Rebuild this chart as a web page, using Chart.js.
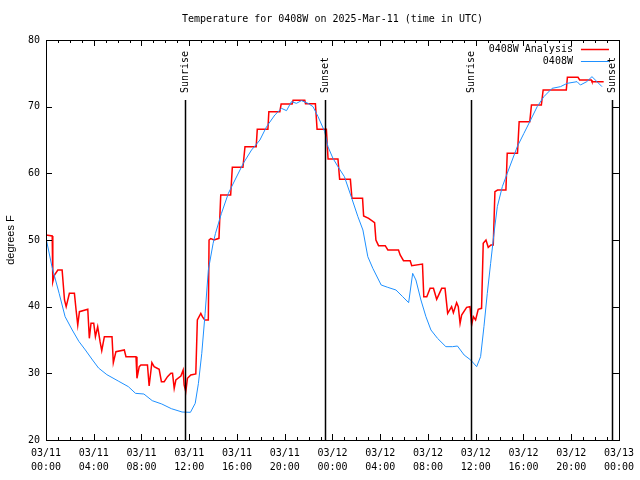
<!DOCTYPE html>
<html>
<head>
<meta charset="utf-8">
<script src="https://cdn.jsdelivr.net/npm/chart.js@4.4.1/dist/chart.umd.min.js"></script>
<style>
  html, body { margin: 0; padding: 0; background: #fff; }
  #chart { display: block; }
</style>
</head>
<body>
<canvas id="chart" width="640" height="480"></canvas>
<script>
// hours since 03/11 00:00 UTC
var tickDays = ['03/11', '03/11', '03/11', '03/11', '03/11', '03/11', '03/12', '03/12', '03/12', '03/12', '03/12', '03/12', '03/13'];
var tickTimes = ['00:00', '04:00', '08:00', '12:00', '16:00', '20:00', '00:00', '04:00', '08:00', '12:00', '16:00', '20:00', '00:00'];

var sunHours = [11.65, 23.35, 35.64, 47.38];
var sunLabels = ['Sunrise', 'Sunset', 'Sunrise', 'Sunset'];

var analysisHours = [0.0, 0.52, 0.57, 0.71, 0.99, 1.35, 1.55, 1.69, 1.96, 2.38, 2.52, 2.66, 2.8, 3.5, 3.63, 3.77, 4.0, 4.14, 4.33, 4.53, 4.67, 4.89, 5.53, 5.64, 5.86, 6.56, 6.7, 7.54, 7.62, 7.81, 7.95, 8.5, 8.64, 8.87, 9.06, 9.48, 9.67, 9.9, 10.18, 10.46, 10.6, 10.74, 10.88, 11.3, 11.49, 11.57, 11.71, 11.85, 12.13, 12.55, 12.68, 12.97, 13.1, 13.3, 13.6, 13.66, 13.8, 14.08, 14.49, 14.64, 15.47, 15.61, 16.5, 16.67, 17.61, 17.7, 18.59, 18.67, 19.59, 19.7, 20.62, 20.7, 21.68, 21.74, 22.57, 22.71, 23.49, 23.63, 24.46, 24.6, 25.5, 25.63, 26.52, 26.61, 27.03, 27.53, 27.64, 27.86, 28.42, 28.64, 29.53, 29.67, 29.95, 30.51, 30.64, 31.54, 31.65, 31.9, 32.18, 32.46, 32.73, 33.15, 33.43, 33.65, 33.98, 34.13, 34.4, 34.54, 34.69, 34.82, 35.24, 35.52, 35.66, 35.8, 35.99, 36.21, 36.49, 36.63, 36.86, 37.05, 37.28, 37.47, 37.61, 37.83, 38.53, 38.64, 39.5, 39.64, 40.53, 40.67, 41.5, 41.65, 43.59, 43.68, 44.57, 44.71, 45.68, 45.74, 46.72];
var analysisTemps = [50.75, 50.6, 43.75, 44.75, 45.5, 45.5, 41, 40, 42, 42, 39.5, 37.25, 39.25, 39.6, 35.25, 37.5, 37.5, 35.5, 37, 34.75, 33.4, 35.5, 35.5, 31.6, 33.25, 33.5, 32.5, 32.5, 29.25, 31, 31.25, 31.25, 28.1, 31.6, 31, 30.6, 28.75, 28.75, 29.5, 30, 30, 27.75, 29, 29.6, 30.5, 28.25, 27.25, 29.25, 29.75, 29.9, 38, 39, 38.5, 38, 38, 50, 50.2, 50, 50.25, 56.75, 56.75, 60.9, 60.9, 64, 64, 66.6, 66.6, 69.25, 69.25, 70.4, 70.4, 70.95, 70.95, 70.45, 70.45, 66.6, 66.6, 62.15, 62.15, 59.1, 59.1, 56.25, 56.25, 53.6, 53.25, 52.6, 50, 49.15, 49.15, 48.5, 48.5, 47.75, 46.9, 46.9, 46.15, 46.4, 41.5, 41.5, 42.75, 42.75, 41.1, 42.75, 42.75, 39, 40, 39.1, 40.6, 40, 37.5, 38.75, 39.9, 40, 37.25, 38.5, 38, 39.6, 39.75, 49.5, 50, 48.9, 49.25, 49.25, 57.25, 57.5, 57.5, 63, 63, 67.75, 67.75, 70.25, 70.25, 72.5, 72.5, 74.4, 74.4, 74, 74, 73.75, 73.75];

var obsHours = [0.0, 0.5, 1.1, 1.6, 2.2, 2.75, 3.3, 3.9, 4.4, 5.1, 6.1, 6.9, 7.5, 8.2, 8.9, 9.7, 10.5, 11.4, 12.1, 12.5, 12.77, 13.05, 13.33, 13.6, 14.0, 14.2, 14.7, 15.28, 15.83, 16.53, 17.22, 17.92, 18.48, 19.17, 19.73, 20.15, 20.56, 20.98, 21.4, 21.95, 22.37, 22.79, 23.35, 23.62, 24.04, 24.46, 25.0, 25.57, 26.13, 26.55, 26.96, 27.38, 28.08, 28.63, 29.32, 29.88, 30.38, 30.72, 30.99, 31.41, 31.83, 32.25, 32.8, 33.5, 34.06, 34.47, 35.03, 35.58, 36.08, 36.41, 36.69, 36.97, 37.25, 37.53, 37.81, 38.23, 38.64, 39.06, 39.48, 40.04, 40.6, 41.15, 41.71, 42.4, 43.1, 43.66, 44.49, 44.77, 45.3, 45.74, 46.16, 46.58];
var obsTemps = [50.3, 46.0, 42.0, 38.5, 36.5, 34.8, 33.5, 32.0, 30.8, 29.8, 28.8, 28.0, 27.0, 26.9, 25.9, 25.4, 24.7, 24.2, 24.15, 25.5, 28.5, 33, 39, 45.5, 49.5, 51, 54, 57, 59, 61.5, 63.5, 65, 67, 68.75, 69.75, 69.4, 70.75, 70.5, 70.9, 70.5, 70, 68.5, 66.25, 64, 62.25, 61, 59.5, 56.5, 53.5, 51.5, 47.5, 45.75, 43.25, 42.9, 42.5, 41.5, 40.6, 45, 44, 41, 38.5, 36.5, 35.25, 34, 34, 34.1, 32.75, 32, 31, 32.5, 37, 42, 46.5, 51, 55, 58, 60, 62, 64, 66, 68, 70, 71.5, 72.75, 73, 73.5, 73.75, 73.25, 73.75, 74.5, 73.75, 73];

var MONO = '"DejaVu Sans Mono", "Liberation Mono", monospace';

function toPoints(xs, ys) {
    var pts = [];
    for (var i = 0; i < xs.length; i++) pts.push({ x: xs[i], y: ys[i] });
    return pts;
}

function $each(arr, fn) {
    for (var i = 0; i < arr.length; i++) fn(i, arr[i]);
}

// gnuplot-like frame, inward ticks, sun lines, title and legend
var gnuFrame = {
    id: 'gnuFrame',
    afterDraw: function (chart) {
        var ctx = chart.ctx;
        var a = chart.chartArea;
        var xs = chart.scales.x, ys = chart.scales.y;
        ctx.save();
        ctx.strokeStyle = '#000';
        ctx.lineWidth = 1;
        ctx.strokeRect(Math.round(a.left) + 0.5, Math.round(a.top) + 0.5, Math.round(a.right - a.left), Math.round(a.bottom - a.top));

        ctx.beginPath();
        for (var h = 0; h <= 48; h++) {
            var px = Math.round(xs.getPixelForValue(h)) + 0.5;
            var len = (h % 4 === 0) ? 6 : 3;
            ctx.moveTo(px, a.bottom); ctx.lineTo(px, a.bottom - len);
            ctx.moveTo(px, a.top); ctx.lineTo(px, a.top + len);
        }
        for (var v = 20; v <= 80; v += 10) {
            var py = Math.round(ys.getPixelForValue(v)) + 0.5;
            ctx.moveTo(a.left, py); ctx.lineTo(a.left + 6, py);
            ctx.moveTo(a.right, py); ctx.lineTo(a.right - 6, py);
        }
        ctx.stroke();

        // sunrise / sunset
        var lineTop = a.top + 0.15 * (a.bottom - a.top);
        ctx.lineWidth = 1.5;
        ctx.fillStyle = '#000';
        ctx.font = '10px ' + MONO;
        $each(sunHours, function (i, h) {
            var sx = Math.round(xs.getPixelForValue(h)) + 0.5;
            ctx.beginPath();
            ctx.moveTo(sx, a.bottom); ctx.lineTo(sx, lineTop);
            ctx.stroke();
            ctx.save();
            ctx.translate(sx, lineTop - 7);
            ctx.rotate(-Math.PI / 2);
            ctx.textAlign = 'left';
            ctx.textBaseline = 'middle';
            ctx.fillText(sunLabels[i], 0, 0);
            ctx.restore();
        });

        // title
        ctx.textAlign = 'center';
        ctx.textBaseline = 'middle';
        ctx.fillText('Temperature for 0408W on 2025-Mar-11 (time in UTC)', (a.left + a.right) / 2, 19);

        // legend
        ctx.textAlign = 'right';
        $each(chart.data.datasets, function (i, ds) {
            var ly = 49 + 12 * i;
            ctx.fillStyle = '#000';
            ctx.fillText(ds.label, a.right - 46, ly);
            ctx.strokeStyle = ds.borderColor;
            ctx.lineWidth = ds.borderWidth;
            ctx.beginPath();
            ctx.moveTo(a.right - 38, ly + 0.5); ctx.lineTo(a.right - 10, ly + 0.5);
            ctx.stroke();
        });
        ctx.restore();
    }
};

var chart = new Chart(document.getElementById('chart').getContext('2d'), {
    type: 'line',
    data: {
        datasets: [
            {
                label: '0408W Analysis',
                data: toPoints(analysisHours, analysisTemps),
                borderColor: '#ff0000',
                borderWidth: 1.5,
                pointRadius: 0,
                tension: 0,
                order: 1
            },
            {
                label: '0408W',
                data: toPoints(obsHours, obsTemps),
                borderColor: '#1e90ff',
                borderWidth: 1,
                pointRadius: 0,
                tension: 0,
                order: 0
            }
        ]
    },
    options: {
        responsive: false,
        animation: false,
        devicePixelRatio: 1,
        layout: { padding: { top: 40, right: 19, left: 0, bottom: 0 } },
        plugins: {
            legend: { display: false },
            tooltip: { enabled: false },
            title: { display: false }
        },
        scales: {
            x: {
                type: 'linear',
                min: 0,
                max: 48,
                afterFit: function (scale) { scale.height = 40; },
                grid: { display: false, drawTicks: false },
                border: { display: false },
                ticks: {
                    stepSize: 4,
                    autoSkip: false,
                    maxRotation: 0,
                    padding: 6,
                    color: '#000',
                    font: { family: MONO, size: 10, lineHeight: 1.45 },
                    callback: function (value) {
                        var i = Math.round(value / 4);
                        return [tickDays[i], tickTimes[i]];
                    }
                }
            },
            y: {
                min: 20,
                max: 80,
                afterFit: function (scale) { scale.width = 46; },
                grid: { display: false, drawTicks: false },
                border: { display: false },
                ticks: {
                    stepSize: 10,
                    padding: 6,
                    color: '#000',
                    font: { family: MONO, size: 10 }
                },
                title: {
                    display: true,
                    text: 'degrees F',
                    color: '#000',
                    font: { family: '"Liberation Sans", Arial, sans-serif', size: 11 },
                    padding: { top: 4, bottom: 0 }
                }
            }
        }
    },
    plugins: [gnuFrame]
});
</script>
</body>
</html>
